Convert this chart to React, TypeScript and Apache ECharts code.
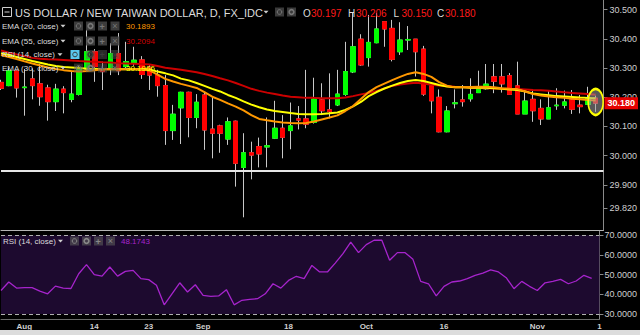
import React, { useEffect, useRef } from 'react';
import * as echarts from 'echarts';

// ---------- data ----------
const dates = [
  '2017-07-27', '2017-07-28', '2017-07-31',
  '2017-08-01', '2017-08-02', '2017-08-03', '2017-08-04', '2017-08-07', '2017-08-08', '2017-08-09', '2017-08-10', '2017-08-11',
  '2017-08-14', '2017-08-15', '2017-08-16', '2017-08-17', '2017-08-18', '2017-08-21', '2017-08-22', '2017-08-23', '2017-08-24',
  '2017-08-25', '2017-08-28', '2017-08-29', '2017-08-30', '2017-08-31',
  '2017-09-01', '2017-09-04', '2017-09-05', '2017-09-06', '2017-09-07', '2017-09-08', '2017-09-11', '2017-09-12', '2017-09-13',
  '2017-09-14', '2017-09-15', '2017-09-18', '2017-09-19', '2017-09-20', '2017-09-21', '2017-09-22', '2017-09-25', '2017-09-26',
  '2017-09-27', '2017-09-28', '2017-09-29',
  '2017-10-02', '2017-10-03', '2017-10-04', '2017-10-05', '2017-10-06', '2017-10-09', '2017-10-10', '2017-10-11', '2017-10-12',
  '2017-10-13', '2017-10-16', '2017-10-17', '2017-10-18', '2017-10-19', '2017-10-20', '2017-10-23', '2017-10-24', '2017-10-25',
  '2017-10-26', '2017-10-27', '2017-10-30', '2017-10-31',
  '2017-11-01', '2017-11-02', '2017-11-03', '2017-11-06', '2017-11-07', '2017-11-08', '2017-11-09', '2017-11-10', '2017-11-13',
];

const xTickLabels: Record<string, string> = {
  '2017-08-01': 'Aug', '2017-08-14': '14', '2017-08-23': '23', '2017-09-01': 'Sep', '2017-09-18': '18',
  '2017-10-02': 'Oct', '2017-10-16': '16', '2017-11-01': 'Nov', '2017-11-13': '1',
};

const opens = [
  30.251, 30.240, 30.290, 30.233, 30.263, 30.246, 30.232, 30.185, 30.228, 30.193,
  30.210, 30.297, 30.356, 30.297, 30.297, 30.350, 30.305, 30.318, 30.328, 30.303,
  30.276, 30.240, 30.086, 30.164, 30.217, 30.131, 30.208, 30.091, 30.102, 30.057,
  30.118, 29.960, 30.010, 30.031, 30.030, 30.060, 30.094, 30.086, 30.126, 30.126,
  30.114, 30.191, 30.157, 30.174, 30.210, 30.287, 30.399, 30.336, 30.387, 30.459,
  30.436, 30.356, 30.396, 30.399, 30.365, 30.239, 30.200, 30.082, 30.178, 30.191,
  30.195, 30.216, 30.229, 30.270, 30.270, 30.274, 30.239, 30.143, 30.193, 30.162,
  30.126, 30.171, 30.173, 30.191, 30.173, 30.176, 30.197,
];
const closes = [
  30.231, 30.291, 30.232, 30.235, 30.240, 30.202, 30.185, 30.228, 30.216, 30.211,
  30.296, 30.356, 30.305, 30.288, 30.350, 30.291, 30.322, 30.327, 30.278, 30.276,
  30.240, 30.086, 30.142, 30.217, 30.131, 30.183, 30.088, 30.077, 30.077, 30.116,
  29.974, 30.010, 30.002, 30.006, 30.034, 30.094, 30.063, 30.102, 30.122, 30.108,
  30.194, 30.154, 30.151, 30.211, 30.288, 30.373, 30.311, 30.388, 30.434, 30.434,
  30.330, 30.396, 30.398, 30.356, 30.211, 30.188, 30.082, 30.153, 30.181, 30.185,
  30.210, 30.231, 30.245, 30.255, 30.246, 30.210, 30.143, 30.187, 30.154, 30.126,
  30.164, 30.173, 30.184, 30.159, 30.168, 30.199, 30.180,
];
const lows = [
  30.225, 30.238, 30.199, 30.137, 30.193, 30.171, 30.120, 30.153, 30.145, 30.183,
  30.206, 30.287, 30.253, 30.225, 30.276, 30.276, 30.300, 30.308, 30.263, 30.225,
  30.202, 30.037, 30.054, 30.040, 30.063, 30.094, 30.020, 29.991, 30.010, 30.037,
  29.894, 29.789, 29.919, 29.960, 29.960, 30.057, 29.991, 30.022, 30.090, 30.094,
  30.110, 30.139, 30.128, 30.170, 30.205, 30.283, 30.308, 30.305, 30.385, 30.373,
  30.323, 30.345, 30.362, 30.271, 30.205, 30.145, 30.080, 30.080, 30.162, 30.168,
  30.185, 30.215, 30.225, 30.214, 30.216, 30.210, 30.143, 30.143, 30.116, 30.105,
  30.126, 30.157, 30.162, 30.143, 30.145, 30.176, 30.150,
];
const highs = [
  30.260, 30.300, 30.292, 30.297, 30.299, 30.314, 30.243, 30.246, 30.238, 30.290,
  30.307, 30.430, 30.365, 30.322, 30.385, 30.420, 30.390, 30.373, 30.341, 30.310,
  30.294, 30.276, 30.174, 30.219, 30.219, 30.211, 30.219, 30.204, 30.106, 30.131,
  30.120, 30.077, 30.048, 30.062, 30.131, 30.188, 30.139, 30.182, 30.170, 30.294,
  30.267, 30.248, 30.282, 30.294, 30.390, 30.489, 30.416, 30.482, 30.488, 30.459,
  30.465, 30.457, 30.444, 30.399, 30.376, 30.245, 30.227, 30.170, 30.227, 30.242,
  30.265, 30.291, 30.314, 30.314, 30.314, 30.283, 30.322, 30.225, 30.225, 30.193,
  30.222, 30.231, 30.223, 30.225, 30.208, 30.236, 30.206,
];

const ema55 = [
  30.360, 30.353, 30.347, 30.341, 30.335, 30.332, 30.330, 30.329, 30.328, 30.326,
  30.324, 30.323, 30.322, 30.320, 30.319, 30.317, 30.316, 30.315, 30.314, 30.312,
  30.307, 30.301, 30.298, 30.294, 30.290, 30.286, 30.280, 30.273, 30.265, 30.258,
  30.249, 30.239, 30.229, 30.222, 30.216, 30.211, 30.206, 30.202, 30.200, 30.198,
  30.198, 30.197, 30.197, 30.197, 30.199, 30.204, 30.210, 30.215, 30.222, 30.230,
  30.239, 30.244, 30.247, 30.250, 30.247, 30.243, 30.240, 30.238, 30.236, 30.235,
  30.233, 30.232, 30.231, 30.230, 30.229, 30.228, 30.228, 30.227, 30.225, 30.224,
  30.222, 30.220, 30.217, 30.215, 30.213, 30.211, 30.209,
];
const ema30 = [
  30.351, 30.345, 30.338, 30.331, 30.324, 30.318, 30.312, 30.307, 30.304, 30.302,
  30.300, 30.298, 30.297, 30.296, 30.296, 30.296, 30.296, 30.296, 30.297, 30.295,
  30.288, 30.282, 30.275, 30.264, 30.258, 30.249, 30.239, 30.229, 30.220, 30.208,
  30.198, 30.186, 30.175, 30.166, 30.158, 30.153, 30.150, 30.146, 30.143, 30.142,
  30.142, 30.143, 30.145, 30.148, 30.157, 30.169, 30.184, 30.204, 30.218, 30.230,
  30.240, 30.249, 30.256, 30.259, 30.256, 30.249, 30.242, 30.237, 30.234, 30.234,
  30.233, 30.233, 30.233, 30.231, 30.229, 30.227, 30.225, 30.220, 30.213, 30.210,
  30.207, 30.204, 30.203, 30.201, 30.199, 30.198, 30.197,
];
const ema20 = [
  30.345, 30.338, 30.331, 30.323, 30.316, 30.309, 30.302, 30.297, 30.293, 30.290,
  30.288, 30.290, 30.293, 30.296, 30.296, 30.296, 30.296, 30.296, 30.295, 30.292,
  30.278, 30.263, 30.254, 30.246, 30.239, 30.232, 30.218, 30.202, 30.191, 30.179,
  30.168, 30.155, 30.139, 30.126, 30.121, 30.117, 30.114, 30.112, 30.111, 30.112,
  30.117, 30.124, 30.131, 30.138, 30.153, 30.170, 30.194, 30.218, 30.235, 30.247,
  30.259, 30.270, 30.280, 30.286, 30.280, 30.270, 30.252, 30.240, 30.234, 30.234,
  30.235, 30.236, 30.236, 30.234, 30.231, 30.229, 30.228, 30.220, 30.211, 30.206,
  30.203, 30.200, 30.198, 30.195, 30.193, 30.191, 30.189,
];
const rsi14 = [
  42.0, 46.3, 43.2, 43.4, 43.4, 41.7, 40.3, 44.2, 43.2, 43.0,
  50.5, 55.1, 50.0, 49.3, 53.9, 49.3, 51.7, 52.2, 48.0, 47.5,
  44.6, 34.7, 40.3, 45.9, 41.2, 44.9, 39.5, 39.0, 39.2, 42.4,
  34.7, 37.0, 37.5, 37.8, 40.3, 45.4, 43.2, 47.1, 49.2, 48.0,
  54.7, 51.4, 51.4, 55.9, 60.7, 66.6, 61.2, 65.3, 67.5, 67.5,
  57.3, 61.2, 61.2, 57.8, 46.6, 45.4, 39.2, 44.1, 46.3, 46.8,
  48.0, 49.7, 50.8, 52.5, 51.4, 48.5, 42.9, 46.6, 44.1, 42.0,
  45.9, 46.6, 47.6, 45.4, 46.8, 49.7, 48.17,
];

const priceTicks = [29.82, 29.9, 30.0, 30.1, 30.2, 30.3, 30.4, 30.5];
const rsiTicks = [30, 40, 50, 60, 70];
const supportLevel = 29.954;
const markerPrice = 30.184;

const titleText = 'US DOLLAR / NEW TAIWAN DOLLAR, D, FX_IDC';
const ohlcLabels = ['O', 'H', 'L', 'C'];
const ohlcValues = ['30.197', '30.206', '30.150', '30.180'];
const legendLabels = ['EMA (20, close)', 'EMA (55, close)', 'RSI (14, close)', 'EMA (30, close)'];
const legendValues = ['30.1893', '30.2094', '', '30.1966'];
const rsiLegendLabel = 'RSI (14, close)';
const rsiLegendValue = '48.1743';

// ---------- styles ----------
const FONT = '"Liberation Sans", Arial, sans-serif';
const UP = '#00ff00';
const DOWN = '#ff0000';
const WICK = '#c8c8c8';
const C_EMA20 = '#ff9800';
const C_EMA55 = '#cc0000';
const C_EMA30 = '#ffff00';
const C_RSI = '#a624cc';
const legendColors = [C_EMA20, '#d40000', '', C_EMA30];

function txt(x: number, y: number, text: string, fill: string, size: number, weight = 'normal') {
  return {
    type: 'text', x, y, z: 100, silent: true,
    style: { text, fill, font: `${weight} ${size}px ${FONT}`, verticalAlign: 'middle', align: 'left' },
  };
}
function box(x: number, y: number, w: number, h: number, fill: string) {
  return { type: 'rect', z: 99, silent: true, shape: { x, y, width: w, height: h }, style: { fill } };
}
function arrow(x: number, y: number, fill: string) {
  return {
    type: 'polygon', z: 100, silent: true,
    shape: { points: [[x - 2.5, y - 1.2], [x + 2.5, y - 1.2], [x, y + 1.6]] },
    style: { fill },
  };
}
function icons(xs: number[], y: number, fills: string[], glyph: string) {
  const out: any[] = [];
  xs.forEach((x, k) => {
    out.push(box(x, y - 4.5, 9, 9, fills[k]));
    const cx = x + 4.5;
    if (k === 0) out.push({ type: 'circle', z: 100, silent: true, shape: { cx, cy: y, r: 2.3 }, style: { fill: 'none', stroke: glyph, lineWidth: 1 } });
    else if (k === 1) out.push({ type: 'ring', z: 100, silent: true, shape: { cx, cy: y, r: 3.2, r0: 1.5 }, style: { fill: glyph } });
    else if (k === 2) out.push(txt(x + 1.6, y + 0.5, '+', glyph, 9, 'bold'));
    else out.push(txt(x + 1.8, y + 0.3, '×', glyph, 9));
  });
  return out;
}

function buildGraphic() {
  const g: any[] = [];
  // title row
  g.push({ type: 'rect', z: 100, silent: true, shape: { x: 2.5, y: 7.5, width: 9, height: 9 }, style: { fill: 'none', stroke: '#cfcfcf', lineWidth: 1 } });
  g.push({ type: 'line', z: 100, silent: true, shape: { x1: 4.5, y1: 12, x2: 9.5, y2: 12 }, style: { stroke: '#cfcfcf', lineWidth: 1 } });
  g.push(txt(15, 12.5, titleText, '#dcdcdc', 11));
  g.push(arrow(266, 12, '#cfcfcf'));
  g.push(...icons([275, 287], 12, ['#3a3a3a', '#3a3a3a'], '#777'));
  const ohlcX = [303, 348, 393.5, 437];
  ohlcLabels.forEach((l, k) => {
    g.push(txt(ohlcX[k], 13, l, '#dcdcdc', 10));
    g.push(txt(ohlcX[k] + 8, 13, ohlcValues[k], '#ff1a1a', 10));
  });
  // indicator rows
  const rowY = [26, 41, 54.5, 68];
  legendLabels.forEach((l, k) => {
    const y = rowY[k];
    g.push(txt(2, y, l, '#dcdcdc', 8));
    const isRsi = k === 2;
    g.push(arrow(isRsi ? 60 : 63, y, '#cfcfcf'));
    if (isRsi) {
      g.push(...icons([70.5, 86, 98, 110.5], y, ['#5bc6ee', 'rgba(90,90,90,0.45)', 'rgba(90,90,90,0.45)', 'rgba(90,90,90,0.45)'], '#3a3a3a'));
    } else {
      const f = k === 3 ? 'rgba(90,90,90,0.45)' : 'rgba(70,70,70,0.85)';
      g.push(...icons([74, 86, 98, 110.5], y, [f, f, f, f], '#777'));
    }
    if (legendValues[k]) g.push(txt(126, y, legendValues[k], legendColors[k], 8));
  });
  // RSI panel legend
  g.push(txt(3, 241, rsiLegendLabel, '#dcdcdc', 8));
  g.push(arrow(60.5, 241, '#cfcfcf'));
  g.push(...icons([70, 82, 94, 106], 241, ['rgba(90,90,90,0.6)', 'rgba(90,90,90,0.6)', 'rgba(90,90,90,0.6)', 'rgba(90,90,90,0.6)'], '#888'));
  g.push(txt(121, 241, rsiLegendValue, C_RSI, 8));
  return g;
}

function buildOption() {
  const wickData = opens.map((o, i) => [o, closes[i], lows[i], highs[i]]);
  const bodyData = opens.map((o, i) => [o, closes[i], Math.min(o, closes[i]), Math.max(o, closes[i])]);
  const lastDate = dates[opens.length - 1];
  const lastClose = closes[closes.length - 1];

  const priceAxisCommon = {
    position: 'right',
    axisLine: { show: true, lineStyle: { color: '#8a8a8a', width: 1 } },
    splitLine: { show: false },
  };

  return {
    animation: false,
    backgroundColor: '#000000',
    textStyle: { fontFamily: FONT },
    grid: [
      { left: 1, right: 35, top: 0, height: 230 },
      { left: 1, right: 35, top: 231, height: 88 },
    ],
    xAxis: [
      {
        type: 'category', gridIndex: 0, data: dates, boundaryGap: false,
        axisLine: { show: true, lineStyle: { color: '#b4b4b4', width: 1 } },
        axisTick: { show: false }, axisLabel: { show: false }, splitLine: { show: false },
      },
      {
        type: 'category', gridIndex: 1, data: dates, boundaryGap: false,
        axisLine: { show: true, lineStyle: { color: '#6a6a6a', width: 1 } },
        axisTick: { show: false }, splitLine: { show: false },
        axisLabel: {
          interval: (_i: number, v: string) => !!xTickLabels[v],
          formatter: (v: string) => xTickLabels[v] || '',
          color: '#cfcfcf', fontSize: 8, fontWeight: 'bold', margin: 3, fontFamily: FONT,
        },
      },
    ],
    yAxis: [
      {
        type: 'value', gridIndex: 0, min: 29.7455, max: 30.5332, ...priceAxisCommon,
        axisTick: { show: true, length: 4, customValues: priceTicks, lineStyle: { color: '#8a8a8a' } },
        axisLabel: {
          customValues: priceTicks, formatter: (v: number) => v.toFixed(3),
          color: '#cfcfcf', fontSize: 9, margin: 6, fontFamily: FONT,
        },
      },
      {
        type: 'value', gridIndex: 1, min: 27.5, max: 72.2, ...priceAxisCommon,
        axisTick: { show: true, length: 4, customValues: rsiTicks, lineStyle: { color: '#8a8a8a' } },
        axisLabel: {
          customValues: rsiTicks, formatter: (v: number) => v.toFixed(4),
          color: '#cfcfcf', fontSize: 9, margin: 5, fontFamily: FONT,
        },
      },
    ],
    series: [
      {
        name: 'wicks', type: 'candlestick', xAxisIndex: 0, yAxisIndex: 0, data: wickData,
        barWidth: 5, clip: false, z: 2,
        itemStyle: { color: WICK, color0: WICK, borderColor: WICK, borderColor0: WICK, borderWidth: 1 },
        markLine: {
          silent: true, symbol: ['none', 'none'],
          data: [{ yAxis: supportLevel, lineStyle: { color: '#e6e6e6', width: 2, type: 'solid' }, label: { show: false } }],
        },
      },
      {
        name: 'bodies', type: 'candlestick', xAxisIndex: 0, yAxisIndex: 0, data: bodyData,
        barWidth: 5, clip: false, z: 3,
        itemStyle: { color: UP, color0: DOWN, borderColor: UP, borderColor0: DOWN, borderWidth: 1 },
        markLine: {
          silent: true, symbol: ['none', 'none'],
          data: [{
            yAxis: lastClose,
            lineStyle: { color: 'rgba(0,0,0,0)', width: 0 },
            label: {
              show: true, position: 'end', distance: 1, formatter: lastClose.toFixed(3),
              backgroundColor: '#e50000', color: '#ffffff', fontSize: 9, fontWeight: 'bold',
              padding: [2, 3, 1, 3], fontFamily: FONT,
            },
          }],
        },
        markPoint: {
          silent: true,
          data: [{
            coord: [lastDate, markerPrice], symbol: 'circle', symbolSize: [15, 26],
            itemStyle: { color: 'rgba(160,160,160,0.55)', borderColor: '#ffff00', borderWidth: 2 },
            label: { show: false },
          }],
        },
      },
      {
        name: 'EMA (55, close)', type: 'line', xAxisIndex: 0, yAxisIndex: 0, data: ema55,
        showSymbol: false, symbol: 'none', z: 4, lineStyle: { color: C_EMA55, width: 2 },
      },
      {
        name: 'EMA (30, close)', type: 'line', xAxisIndex: 0, yAxisIndex: 0, data: ema30,
        showSymbol: false, symbol: 'none', z: 4, lineStyle: { color: C_EMA30, width: 2 },
      },
      {
        name: 'EMA (20, close)', type: 'line', xAxisIndex: 0, yAxisIndex: 0, data: ema20,
        showSymbol: false, symbol: 'none', z: 4, lineStyle: { color: C_EMA20, width: 2 },
      },
      {
        name: 'RSI (14, close)', type: 'line', xAxisIndex: 1, yAxisIndex: 1, data: rsi14,
        showSymbol: false, symbol: 'none', z: 4, lineStyle: { color: C_RSI, width: 1.3 },
        markArea: {
          silent: true, itemStyle: { color: '#1d0a2f' },
          data: [[{ yAxis: 30 }, { yAxis: 70 }]],
        },
        markLine: {
          silent: true, symbol: ['none', 'none'], label: { show: false },
          lineStyle: { color: '#b0b0b0', width: 1, type: [4, 3] },
          data: [{ yAxis: 70 }, { yAxis: 30 }],
        },
      },
    ],
    graphic: buildGraphic(),
  };
}

export default function App() {
  const ref = useRef<HTMLDivElement>(null);
  useEffect(() => {
    if (!ref.current) return;
    const chart = echarts.init(ref.current, undefined, { renderer: 'svg' });
    chart.setOption(buildOption() as any);
    return () => chart.dispose();
  }, []);
  return (
    <div style={{ position: 'fixed', left: 0, top: 0, width: 640, height: 335, background: '#dcdcdc' }}>
      <div ref={ref} style={{ width: 640, height: 330, background: '#000' }} />
    </div>
  );
}
